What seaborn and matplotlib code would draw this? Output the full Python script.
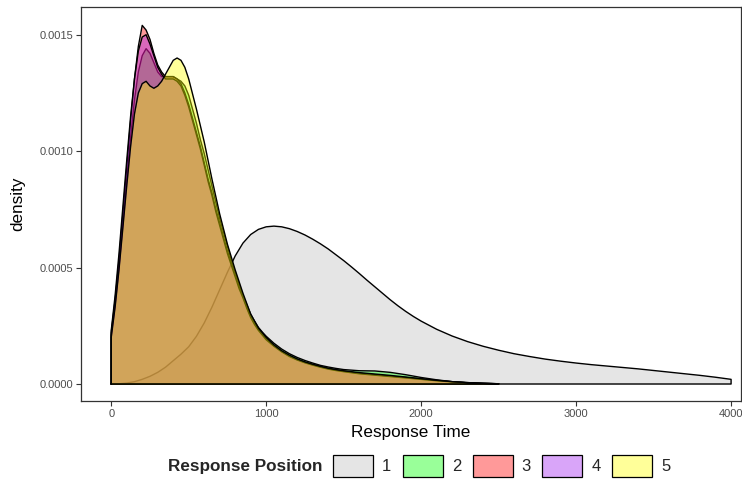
import numpy as np
import pandas as pd
import matplotlib
matplotlib.use("Agg")
import matplotlib.pyplot as plt
from matplotlib.patches import Patch
from matplotlib.colors import to_rgba
import seaborn as sns

# Estimated density curves of response time by response position
positions = ["1", "2", "3", "4", "5"]
fill_colors = ["#BEBEBE", "#00FF00", "#FF0000", "#A020F0", "#FFFF00"]

# Position 1 spans the full range of response times
time_1 = [0, 50, 100, 150, 200, 250, 300, 350, 400, 450, 500, 550, 600, 650,
          700, 750, 800, 850, 900, 950, 1000, 1050, 1100, 1150, 1200, 1250,
          1300, 1350, 1400, 1450, 1500, 1550, 1600, 1650, 1700, 1750, 1800,
          1850, 1900, 1950, 2000, 2100, 2200, 2300, 2400, 2500, 2600, 2700,
          2800, 2900, 3000, 3100, 3200, 3300, 3400, 3500, 3600, 3700, 3800,
          3900, 4000]
dens_1 = [0.0, 0.000001, 0.000004, 0.00001, 0.00002, 0.000033, 0.00005,
          0.000072, 0.0001, 0.000128, 0.00016, 0.000205, 0.000262, 0.00033,
          0.000405, 0.00048, 0.00055, 0.000605, 0.000642, 0.000664, 0.000675,
          0.000678, 0.000675, 0.000667, 0.000655, 0.00064, 0.000622, 0.000602,
          0.00058, 0.000555, 0.00053, 0.000503, 0.000475, 0.000446, 0.000418,
          0.00039, 0.000362, 0.000336, 0.000312, 0.00029, 0.00027, 0.000235,
          0.000206, 0.000182, 0.000162, 0.000145, 0.00013, 0.000118, 0.000107,
          0.000098, 0.00009, 0.000083, 0.000077, 0.000071, 0.000065, 0.000058,
          0.000051, 0.000044, 0.000037, 0.000029, 0.00002]

# Positions 2-5 share one grid of response times
time_2_5 = [0, 25, 50, 75, 100, 125, 150, 175, 200, 225, 250, 275, 300, 325,
            350, 375, 400, 425, 450,
            475, 500, 525, 550, 575, 600, 625, 650, 675, 700, 725, 750, 775,
            800, 825, 850, 875, 900, 925, 950, 975, 1000,
            1050, 1100, 1150, 1200, 1250, 1300, 1350, 1400, 1450, 1500,
            1600, 1700, 1800, 1900, 2000, 2100, 2200, 2300, 2400, 2500]
dens_2 = [0.00021, 0.00034, 0.0005, 0.00069, 0.00088, 0.00106, 0.00122,
          0.00134, 0.00141, 0.00144, 0.00142, 0.00138, 0.00134, 0.00132,
          0.00132, 0.00132, 0.00132, 0.00131, 0.0013,
          0.00128, 0.00124, 0.00118, 0.00112, 0.00105, 0.00099, 0.00092,
          0.00085, 0.00078, 0.00071, 0.00065, 0.00059, 0.00053, 0.00048,
          0.00043, 0.00038, 0.00034, 0.0003, 0.00027, 0.000243, 0.000223,
          0.000205,
          0.000175, 0.00015, 0.00013, 0.000114, 0.000101, 0.00009, 0.00008,
          0.000073, 0.000067, 0.000062,
          0.000057, 0.000056, 0.00005, 0.00004, 0.000028, 0.000018, 0.00001,
          0.000005, 0.000002, 0.000001]
dens_3 = [0.00022, 0.00036, 0.00053, 0.00073, 0.00093, 0.00113, 0.00131,
          0.00145, 0.00154, 0.00152, 0.00148, 0.00142, 0.00137, 0.00134,
          0.00132, 0.00132, 0.00132, 0.00131, 0.00129,
          0.00125, 0.0012, 0.00114, 0.00108, 0.00102, 0.00095, 0.00088,
          0.00082, 0.00075, 0.00069, 0.00063, 0.00057, 0.00052, 0.00047,
          0.00042, 0.000375, 0.00033, 0.00029, 0.00026, 0.000235, 0.000214,
          0.000195,
          0.000165, 0.00014, 0.00012, 0.000105, 0.000093, 0.000083, 0.000074,
          0.000066, 0.00006, 0.000055,
          0.000046, 0.00004, 0.000034, 0.000028, 0.000021, 0.000015, 0.00001,
          0.000006, 0.000003, 0.000001]
dens_4 = [0.00023, 0.00038, 0.00056, 0.00076, 0.00096, 0.00115, 0.00131,
          0.00143, 0.00149, 0.0015, 0.00146, 0.00141, 0.00136, 0.00133,
          0.00131, 0.00131, 0.00131, 0.0013, 0.00128,
          0.00124, 0.00119, 0.00113, 0.00107, 0.00101, 0.00094, 0.00087,
          0.00081, 0.00074, 0.00068, 0.00062, 0.00056, 0.00051, 0.00046,
          0.00041, 0.00037, 0.000325, 0.000285, 0.000255, 0.00023, 0.00021,
          0.00019,
          0.000162, 0.000138, 0.000118, 0.000103, 0.000091, 0.000081,
          0.000072, 0.000064, 0.000058, 0.000053,
          0.000044, 0.000038, 0.000032, 0.000026, 0.00002, 0.000014,
          0.000009, 0.000005, 0.000003, 0.000001]
dens_5 = [0.0002, 0.00033, 0.00049, 0.00067, 0.00085, 0.00102, 0.00116,
          0.00125, 0.00129, 0.0013, 0.00128, 0.00127, 0.00128, 0.0013,
          0.00133, 0.00136, 0.00139, 0.0014, 0.00139,
          0.00136, 0.00131, 0.001245, 0.00118, 0.00111, 0.00104, 0.00096,
          0.00088, 0.000805, 0.00073, 0.000665, 0.0006, 0.000545, 0.00049,
          0.00044, 0.00039, 0.000345, 0.0003, 0.00027, 0.00024, 0.00022,
          0.0002,
          0.000168, 0.000143, 0.000124, 0.000108, 0.000095, 0.000085,
          0.000076, 0.000068, 0.000062, 0.000057,
          0.000049, 0.000043, 0.000037, 0.00003, 0.000023, 0.000016, 0.00001,
          0.000006, 0.000003, 0.000001]

x_ticks = [0, 1000, 2000, 3000, 4000]
y_ticks = [0.0, 0.0005, 0.0010, 0.0015]

curves = pd.concat([
    pd.DataFrame({"time": t, "density": d, "position": p})
    for p, t, d in zip(positions,
                       [time_1, time_2_5, time_2_5, time_2_5, time_2_5],
                       [dens_1, dens_2, dens_3, dens_4, dens_5])
], ignore_index=True)

sns.set_theme(style="white")
plt.rcParams["font.family"] = ["Liberation Sans", "DejaVu Sans"]

W, H = 742, 496
fig = plt.figure(figsize=(W / 100, H / 100), dpi=100)
ax = fig.add_axes([80.7 / W, 1 - 401 / H, (741 - 80.7) / W, (401 - 7) / H])

for i, (pos, color) in enumerate(zip(positions, fill_colors)):
    sub = curves[curves["position"] == pos]
    t = sub["time"].to_numpy()
    d = sub["density"].to_numpy()
    ax.fill_between(t, d, 0, color=color, alpha=0.4, linewidth=0,
                    zorder=2 + 2 * i)
    # closed outline: baseline, curve, right edge back to baseline
    outline = pd.DataFrame({
        "time": np.concatenate([[t[0]], t, [t[-1], t[0]]]),
        "density": np.concatenate([[0.0], d, [0.0, 0.0]]),
    })
    sns.lineplot(data=outline, x="time", y="density", sort=False,
                 estimator=None, color="black", linewidth=1.0, ax=ax,
                 zorder=3 + 2 * i)

ax.set_xlim(-197, 4064)
ax.set_ylim(-0.000073, 0.001619)
ax.set_xticks(x_ticks)
ax.set_yticks(y_ticks)
ax.set_yticklabels([f"{v:.4f}" for v in y_ticks])
ax.tick_params(axis="both", which="major", direction="out", length=3.5,
               width=0.8, color="#333333", labelcolor="#4D4D4D",
               labelsize=8, pad=2, bottom=True, left=True)
for s in ax.spines.values():
    s.set_color("#333333")
    s.set_linewidth(0.9)

ax.set_xlabel("Response Time", fontsize=12.3, color="black")
ax.set_ylabel("density", fontsize=12.3, color="black")
ax.xaxis.set_label_coords(0.5, -(433 - 401) / (401 - 7))
ax.xaxis.label.set_va("center")
ax.yaxis.set_label_coords(-(80.7 - 18) / (741 - 80.7), 0.5)
ax.yaxis.label.set_va("center")

handles = [Patch(facecolor=to_rgba(c, 0.4), edgecolor="black", linewidth=0.9)
           for c in fill_colors]
fig.text(168 / W, 1 - 466 / H, "Response Position", fontsize=12.3,
         fontweight="bold", ha="left", va="center")
fig.legend(handles, positions, loc="center left",
           bbox_to_anchor=(333 / W, 1 - 466 / H), ncol=5, frameon=False,
           borderpad=0, borderaxespad=0, handlelength=2.4, handleheight=1.58,
           handletextpad=0.55, columnspacing=0.68, fontsize=12)

fig.savefig("out.png", dpi=100)
